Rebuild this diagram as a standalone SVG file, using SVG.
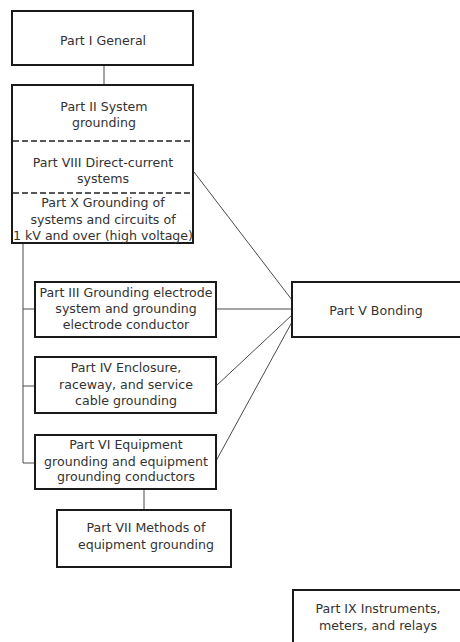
<svg xmlns="http://www.w3.org/2000/svg" width="460" height="642" viewBox="0 0 460 642">
<style>
.box{fill:#fff;stroke:#1a1a1a;stroke-width:2}
.dash{stroke:#222;stroke-width:1.3;stroke-dasharray:6,3;fill:none}
.t{font-family:"DejaVu Sans",sans-serif;font-size:12.6px;fill:#333;text-anchor:middle}
.c{stroke:#4a4a4a;stroke-width:1;fill:none}
</style>
<rect width="460" height="642" fill="#fff"/>
<g id="connectors">
<line class="c" x1="104" y1="65" x2="104" y2="85"/>
<polyline class="c" points="23,243 23,463 35,463"/>
<line class="c" x1="23" y1="309" x2="35" y2="309"/>
<line class="c" x1="23" y1="386" x2="35" y2="386"/>
<line class="c" x1="144" y1="489" x2="144" y2="510"/>
<line class="c" x1="194" y1="172" x2="292" y2="300"/>
<line class="c" x1="216" y1="309" x2="292" y2="309"/>
<line class="c" x1="216" y1="386" x2="292" y2="315"/>
<line class="c" x1="216" y1="461" x2="292" y2="322"/>
</g>
<g id="part1">
<rect class="box" x="12" y="11" width="181" height="54"/>
<text class="t" x="103" y="45">Part I General</text>
</g>
<g id="part2">
<rect class="box" x="12" y="85" width="181" height="158"/>
<line class="dash" x1="13" y1="141" x2="192" y2="141"/>
<line class="dash" x1="13" y1="193" x2="192" y2="193"/>
<text class="t" x="104" y="111">Part II System</text>
<text class="t" x="104" y="127">grounding</text>
<text class="t" x="103" y="167">Part VIII Direct-current</text>
<text class="t" x="103" y="183">systems</text>
<text class="t" x="103" y="207">Part X Grounding of</text>
<text class="t" x="103" y="224">systems and circuits of</text>
<text class="t" x="103" y="240">1 kV and over (high voltage)</text>
</g>
<g id="part3">
<rect class="box" x="35" y="282" width="181" height="55"/>
<text class="t" x="126" y="297">Part III Grounding electrode</text>
<text class="t" x="126" y="313">system and grounding</text>
<text class="t" x="126" y="329">electrode conductor</text>
</g>
<g id="part4">
<rect class="box" x="35" y="357" width="181" height="56"/>
<text class="t" x="126" y="372">Part IV Enclosure,</text>
<text class="t" x="126" y="389">raceway, and service</text>
<text class="t" x="126" y="405">cable grounding</text>
</g>
<g id="part6">
<rect class="box" x="35" y="435" width="181" height="54"/>
<text class="t" x="126" y="449">Part VI Equipment</text>
<text class="t" x="126" y="466">grounding and equipment</text>
<text class="t" x="126" y="481">grounding conductors</text>
</g>
<g id="part7">
<rect class="box" x="57" y="510" width="174" height="57"/>
<text class="t" x="146" y="532">Part VII Methods of</text>
<text class="t" x="146" y="549">equipment grounding</text>
</g>
<g id="part5">
<rect class="box" x="292" y="282" width="172" height="55"/>
<text class="t" x="376" y="315">Part V Bonding</text>
</g>
<g id="part9">
<rect class="box" x="293" y="590" width="172" height="60"/>
<text class="t" x="378" y="613">Part IX Instruments,</text>
<text class="t" x="378" y="630">meters, and relays</text>
</g>
</svg>
